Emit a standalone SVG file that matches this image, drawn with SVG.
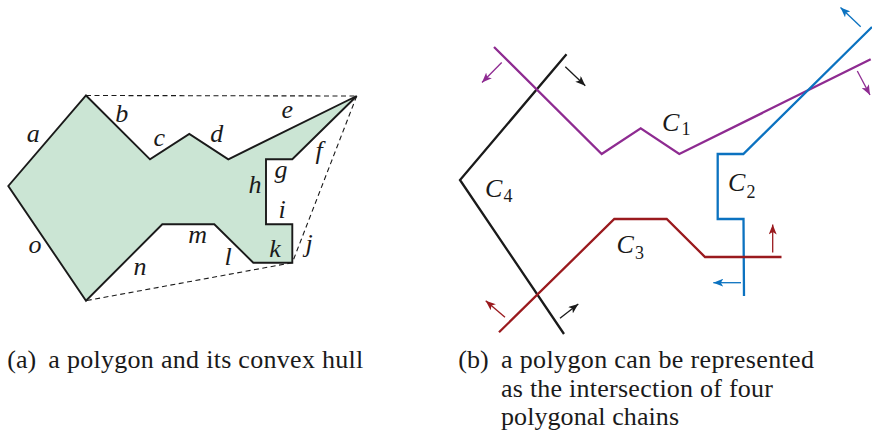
<svg xmlns="http://www.w3.org/2000/svg" width="872" height="434" viewBox="0 0 872 434">
<style>
text{font-family:"Liberation Serif",serif !important;fill:#1a1a1a}
.it{font-style:italic}
.chain{fill:none;stroke-width:2.3;stroke-linejoin:miter}
.dash{fill:none;stroke:#1a1a1a;stroke-width:1.1;stroke-dasharray:5 3.5}
.arr{fill:none;stroke-width:1.3}
</style>
<defs>
<marker id="hK" viewBox="0 0 10 8" refX="10" refY="4" markerWidth="10" markerHeight="8" markerUnits="userSpaceOnUse" orient="auto"><path d="M0,0 L10,4 L0,8 L2.5,4 Z" fill="#1a1a1a"/></marker>
<marker id="hP" viewBox="0 0 10 8" refX="10" refY="4" markerWidth="10" markerHeight="8" markerUnits="userSpaceOnUse" orient="auto"><path d="M0,0 L10,4 L0,8 L2.5,4 Z" fill="#8e2b91"/></marker>
<marker id="hB" viewBox="0 0 10 8" refX="10" refY="4" markerWidth="10" markerHeight="8" markerUnits="userSpaceOnUse" orient="auto"><path d="M0,0 L10,4 L0,8 L2.5,4 Z" fill="#0b72c0"/></marker>
<marker id="hR" viewBox="0 0 10 8" refX="10" refY="4" markerWidth="10" markerHeight="8" markerUnits="userSpaceOnUse" orient="auto"><path d="M0,0 L10,4 L0,8 L2.5,4 Z" fill="#9a1a1e"/></marker>
</defs>

<g id="polygon">
<polygon points="86,95.5 150,159.3 189.3,134 228.3,159.3 356.7,96 292.3,159.3 266,159.3 266,224.3 292.3,224.3 292.3,262.7 253.3,262.7 214.3,224.3 162.3,224.3 86,300.7 8.3,186" fill="#cbe5d4" stroke="#1a1a1a" stroke-width="1.9" stroke-linejoin="miter"/>
</g>
<g id="hull">
<line class="dash" x1="86" y1="95.5" x2="356.7" y2="96"/>
<line class="dash" x1="356.7" y1="96" x2="292.3" y2="262.7"/>
<line class="dash" x1="292.3" y1="262.7" x2="86" y2="300.7"/>
</g>
<g id="edge-labels" font-size="26" text-anchor="middle">
<text class="it" style="font-family:'Liberation Serif',serif !important" x="33.3" y="141.7">a</text>
<text class="it" style="font-family:'Liberation Serif',serif !important" x="121.7" y="121.7">b</text>
<text class="it" style="font-family:'Liberation Serif',serif !important" x="159.3" y="145.7">c</text>
<text class="it" style="font-family:'Liberation Serif',serif !important" x="216.7" y="141.7">d</text>
<text class="it" style="font-family:'Liberation Serif',serif !important" x="287.3" y="118.3">e</text>
<text class="it" style="font-family:'Liberation Serif',serif !important" x="319" y="158.5">f</text>
<text class="it" style="font-family:'Liberation Serif',serif !important" x="281" y="177.5">g</text>
<text class="it" style="font-family:'Liberation Serif',serif !important" x="255" y="193.3">h</text>
<text class="it" style="font-family:'Liberation Serif',serif !important" x="282" y="218.3">i</text>
<text class="it" style="font-family:'Liberation Serif',serif !important" x="309" y="252">j</text>
<text class="it" style="font-family:'Liberation Serif',serif !important" x="275" y="256.7">k</text>
<text class="it" style="font-family:'Liberation Serif',serif !important" x="228" y="265">l</text>
<text class="it" style="font-family:'Liberation Serif',serif !important" x="197.7" y="243.3">m</text>
<text class="it" style="font-family:'Liberation Serif',serif !important" x="140" y="275">n</text>
<text class="it" style="font-family:'Liberation Serif',serif !important" x="35" y="253.3">o</text>
</g>

<g id="chain-C4">
<polyline class="chain" stroke="#1a1a1a" points="566.5,54.3 460,180 564,334"/>
<text class="it" style="font-family:'Liberation Serif',serif !important" font-size="26" x="485" y="197.3">C</text><text style="font-family:'Liberation Serif',serif !important" font-size="18" x="503.5" y="202.3">4</text>
</g>
<g id="chain-C1">
<polyline class="chain" stroke="#8e2b91" points="494,47 601.7,154 640.7,128.3 679.3,154 870.7,59.3"/>
<text class="it" style="font-family:'Liberation Serif',serif !important" font-size="26" x="662" y="131">C</text><text style="font-family:'Liberation Serif',serif !important" font-size="18" x="681.5" y="135">1</text>
</g>
<g id="chain-C2">
<polyline class="chain" stroke="#0b72c0" points="872,27 743.3,154 717.7,154 717.7,219 743.5,219 744,296"/>
<text class="it" style="font-family:'Liberation Serif',serif !important" font-size="26" x="728" y="190.7">C</text><text style="font-family:'Liberation Serif',serif !important" font-size="18" x="746.5" y="197.7">2</text>
</g>
<g id="chain-C3">
<polyline class="chain" stroke="#9a1a1e" points="499,332.3 614.3,219 666.7,219 705,257 781.5,257"/>
<text class="it" style="font-family:'Liberation Serif',serif !important" font-size="26" x="616.5" y="253.3">C</text><text style="font-family:'Liberation Serif',serif !important" font-size="18" x="635" y="259.3">3</text>
</g>
<g id="connectors">
<line class="arr" stroke="#8e2b91" marker-end="url(#hP)" x1="501.7" y1="62.5" x2="482" y2="82.5"/>
<line class="arr" stroke="#8e2b91" marker-end="url(#hP)" x1="857.3" y1="71" x2="870" y2="95"/>
<line class="arr" stroke="#1a1a1a" marker-end="url(#hK)" x1="565.3" y1="66.7" x2="585.3" y2="85.7"/>
<line class="arr" stroke="#1a1a1a" marker-end="url(#hK)" x1="560" y1="318.3" x2="578.3" y2="304"/>
<line class="arr" stroke="#0b72c0" marker-end="url(#hB)" x1="860.7" y1="26.7" x2="840.5" y2="7.5"/>
<line class="arr" stroke="#0b72c0" marker-end="url(#hB)" x1="741" y1="282.7" x2="713.3" y2="282.7"/>
<line class="arr" stroke="#9a1a1e" marker-end="url(#hR)" x1="772.7" y1="252.5" x2="772.7" y2="224.5"/>
<line class="arr" stroke="#9a1a1e" marker-end="url(#hR)" x1="505" y1="317.3" x2="485.7" y2="300.7"/>
</g>

<g id="captions" font-size="26">
<text style="font-family:'Liberation Serif',serif !important" x="7.3" y="368.3">(a)</text>
<text style="font-family:'Liberation Serif',serif !important" x="48.3" y="368.3" textLength="315" lengthAdjust="spacing">a polygon and its convex hull</text>
<text style="font-family:'Liberation Serif',serif !important" x="458.3" y="368.3">(b)</text>
<text style="font-family:'Liberation Serif',serif !important" x="501" y="368.3" textLength="313" lengthAdjust="spacing">a polygon can be represented</text>
<text style="font-family:'Liberation Serif',serif !important" x="501" y="397.3" textLength="272" lengthAdjust="spacing">as the intersection of four</text>
<text style="font-family:'Liberation Serif',serif !important" x="501" y="425.3" textLength="178" lengthAdjust="spacing">polygonal chains</text>
</g>
</svg>
